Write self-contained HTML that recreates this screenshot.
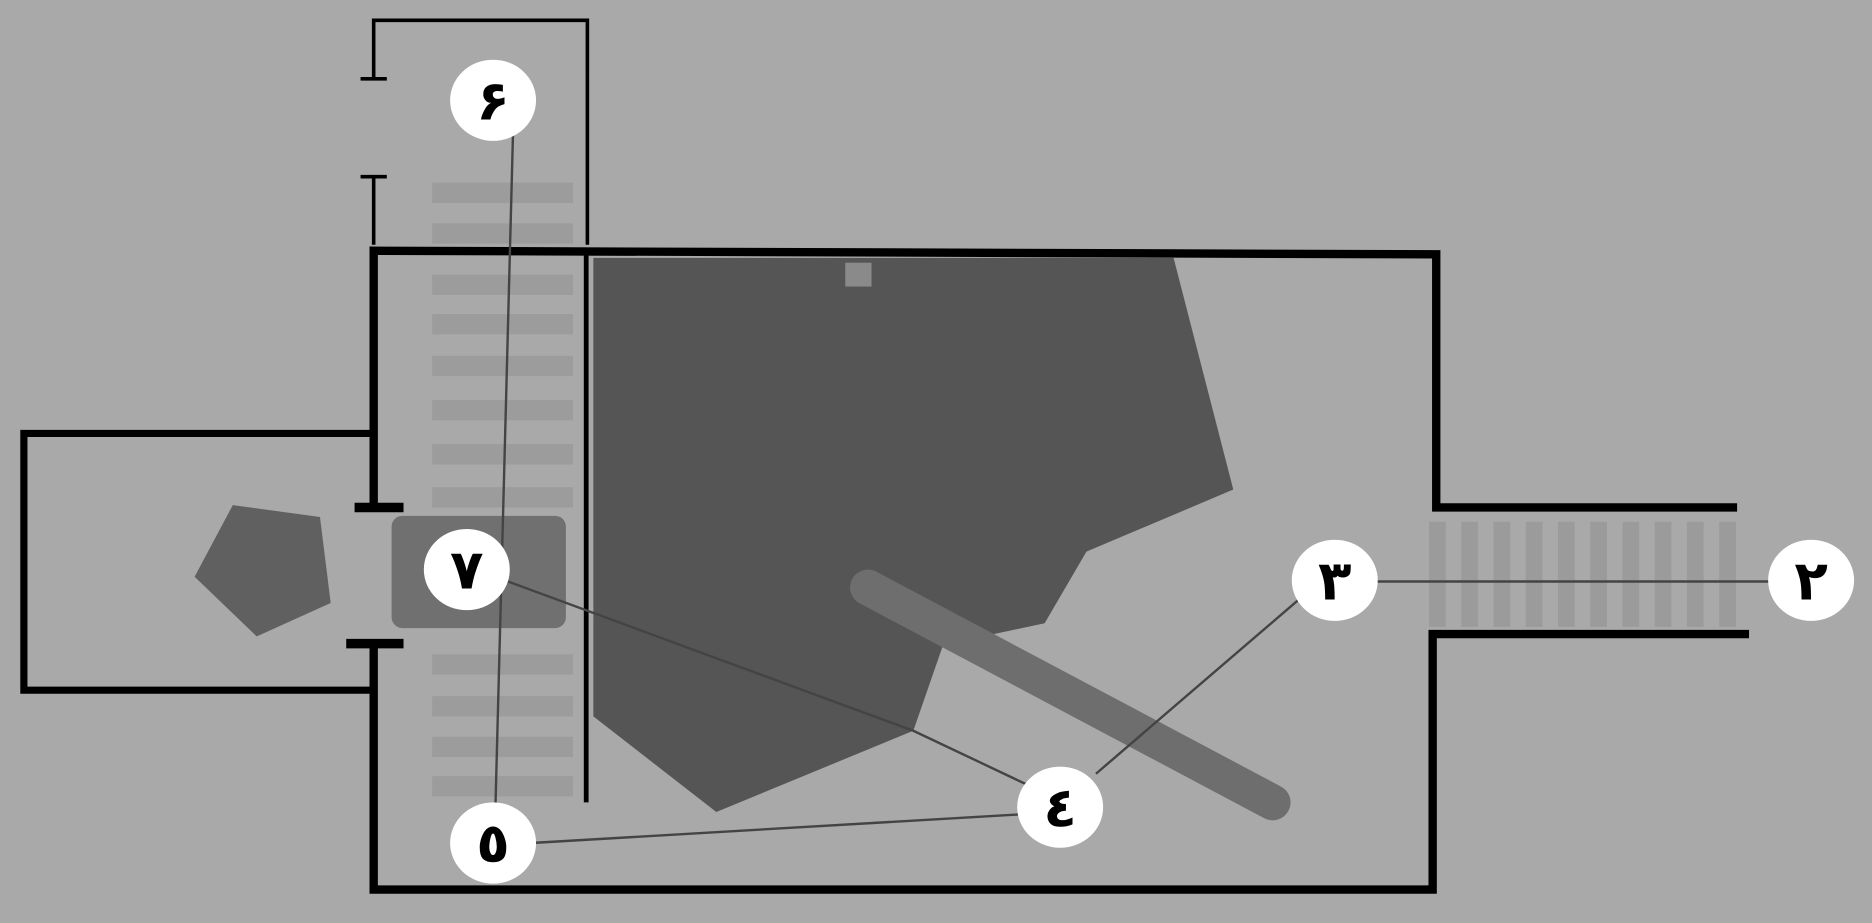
<!DOCTYPE html>
<html><head><meta charset="utf-8"><style>
html,body{margin:0;padding:0;background:#a9a9a9;}
svg{display:block;}
text{font-family:"DejaVu Sans","Liberation Sans",sans-serif;font-weight:bold;fill:#000;}
</style></head><body>
<svg width="1872" height="923" viewBox="0 0 1568 773" preserveAspectRatio="none" xmlns="http://www.w3.org/2000/svg">
<rect width="1568" height="773" fill="#a9a9a9"/>
<g fill="#9c9c9c">
<rect x="362" y="153" width="118" height="17"/><rect x="362" y="187" width="118" height="17"/>
<rect x="362" y="230" width="118" height="17"/><rect x="362" y="263" width="118" height="17"/>
<rect x="362" y="298" width="118" height="17"/><rect x="362" y="335" width="118" height="17"/>
<rect x="362" y="372" width="118" height="17"/><rect x="362" y="408" width="118" height="17"/>
<rect x="362" y="548" width="118" height="17"/><rect x="362" y="583" width="118" height="17"/>
<rect x="362" y="617" width="118" height="17"/><rect x="362" y="650" width="118" height="17"/>
</g>
<g fill="#9b9b9b">
<rect x="1197" y="437" width="14" height="88"/><rect x="1224" y="437" width="14" height="88"/>
<rect x="1251" y="437" width="14" height="88"/><rect x="1278" y="437" width="14" height="88"/>
<rect x="1305" y="437" width="14" height="88"/><rect x="1332" y="437" width="14" height="88"/>
<rect x="1359" y="437" width="14" height="88"/><rect x="1386" y="437" width="14" height="88"/>
<rect x="1413" y="437" width="14" height="88"/><rect x="1440" y="437" width="14" height="88"/>
</g>
<polygon points="497,216 983,216 1033,410 910,462 875,522 790,540 765,612 600,680 497,600" fill="#555"/>
<rect x="708" y="220" width="22" height="20" fill="#8a8a8a"/>
<line x1="727" y1="492" x2="1066" y2="672" stroke="#6e6e6e" stroke-width="30" stroke-linecap="round"/>
<rect x="328" y="432" width="146" height="94" rx="9" fill="#707070"/>
<polygon points="163,483 195,423 268,433 277,505 215,533" fill="#606060"/>
<g stroke="#000" fill="none">
<polyline points="313,66 313,17 492,17 492,205" stroke-width="3"/>
<line x1="302" y1="66" x2="324" y2="66" stroke-width="3"/>
<line x1="313" y1="148" x2="313" y2="205" stroke-width="3"/>
<line x1="302" y1="148" x2="324" y2="148" stroke-width="3"/>
<line x1="491" y1="210" x2="491" y2="672" stroke-width="4"/>
<polyline points="313,425 313,210 1203,213 1203,425 1455,425" stroke-width="7"/>
<polyline points="1465,531 1200,531 1200,745 313,745 313,538" stroke-width="7"/>
<line x1="297" y1="425" x2="338" y2="425" stroke-width="8"/>
<line x1="290" y1="539" x2="338" y2="539" stroke-width="8"/>
<polyline points="313,363 20,363 20,578 313,578" stroke-width="6"/>
</g>
<g stroke="#444" stroke-width="2" fill="none">
<line x1="430" y1="100" x2="415" y2="675"/>
<polyline points="420,485 765,612 860,657"/>
<line x1="445" y1="706" x2="855" y2="682"/>
<line x1="1088" y1="502" x2="918" y2="648"/>
<line x1="1150" y1="487" x2="1485" y2="487"/>
</g>
<g fill="#fff">
<ellipse cx="413" cy="84" rx="36" ry="34"/>
<ellipse cx="391" cy="477" rx="36" ry="34"/>
<ellipse cx="413" cy="706" rx="36" ry="34"/>
<ellipse cx="888" cy="676" rx="36" ry="34"/>
<ellipse cx="1118" cy="486" rx="36" ry="34"/>
<ellipse cx="1517" cy="486" rx="36" ry="34"/>
</g>
<g font-size="46" text-anchor="middle">
<text x="413" y="100">۶</text>
<text x="391" y="493">٧</text>
<text x="413" y="722">٥</text>
<text x="888" y="692">٤</text>
<text x="1118" y="502">٣</text>
<text x="1517" y="502">٢</text>
</g>
</svg>
</body></html>
